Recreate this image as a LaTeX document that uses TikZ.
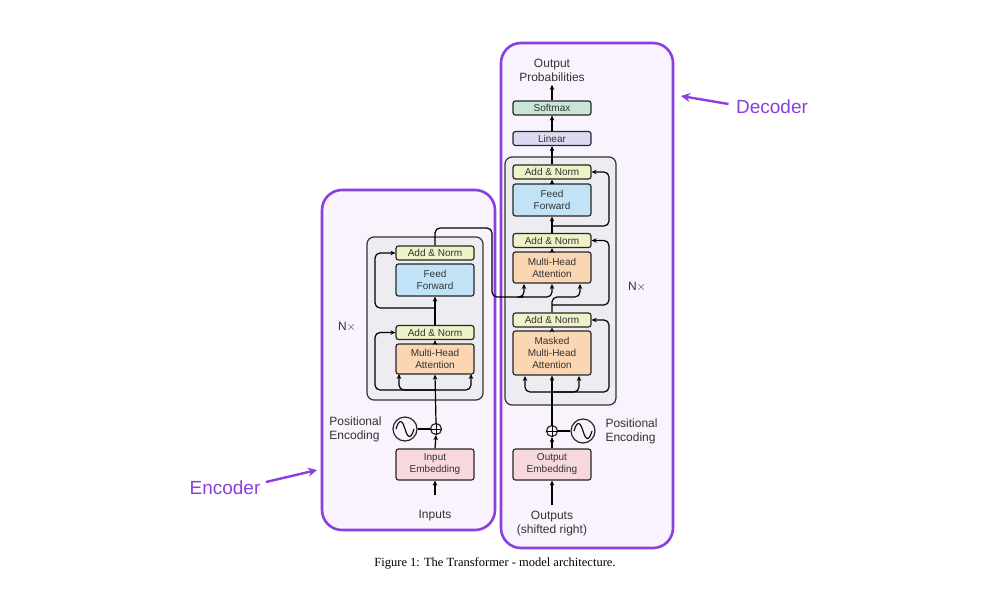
\documentclass[tikz,border=0pt]{standalone}
\usepackage{fontspec}
\setmainfont{Liberation Sans}
\newfontfamily\capfont{Liberation Serif}
\usetikzlibrary{arrows.meta}
\definecolor{purp}{HTML}{8A3FE0}
\definecolor{lav}{HTML}{F8F3FD}
\definecolor{blk}{HTML}{EDECF1}
\definecolor{addn}{HTML}{EFF1C6}
\definecolor{ffc}{HTML}{C2E3F7}
\definecolor{mha}{HTML}{FBD6B2}
\definecolor{emb}{HTML}{F7D8DD}
\definecolor{lin}{HTML}{DCDAF2}
\definecolor{smx}{HTML}{C8E6D3}
\definecolor{txt}{HTML}{333333}
\begin{document}
\begin{tikzpicture}[x=1pt,y=-1pt,
  big/.style={draw=purp,line width=2.6pt,fill=lav,rounded corners=20pt},
  blockbg/.style={draw=black!80,line width=1.2pt,fill=blk,rounded corners=7pt},
  box/.style={draw=black!85,line width=1.2pt,rounded corners=2.5pt,minimum width=78pt,inner sep=0pt,align=center,font=\fontsize{10}{12}\selectfont,text=txt},
  an/.style={box,fill=addn,minimum height=14pt},
  ln/.style={line width=1.2pt,rounded corners=5pt},
  ar/.style={ln,-{Stealth[length=5pt,width=4.5pt]}},
  lbl/.style={font=\fontsize{12}{14}\selectfont,text=txt,align=center},
  big/.append style={}]
\useasboundingbox (0,0) rectangle (992,600);
\fill[white] (0,0) rectangle (992,600);
% purple boxes
\draw[big] (322,190) rectangle (495,530);
\draw[big] (501,43) rectangle (673,548);
% gray blocks
\draw[blockbg] (367,237) rectangle (483,400);
\draw[blockbg] (505,157) rectangle (616,405);
% encoder nodes
\node[an] (ean2) at (435,253) {Add \& Norm};
\node[box,fill=ffc,minimum height=32pt] (eff) at (435,280) {Feed\\Forward};
\node[an] (ean1) at (435,332.5) {Add \& Norm};
\node[box,fill=mha,minimum height=30pt] (emha) at (435,359) {Multi-Head\\Attention};
\node[box,fill=emb,minimum height=31pt] (eemb) at (435,464.5) {Input\\Embedding};
\node[lbl] (ein) at (435,516) {Inputs};
\node[draw=black!85,line width=1.2pt,circle,minimum size=11pt,inner sep=0pt] (eplus) at (436,429) {};
\draw[line width=1pt] (eplus.north)--(eplus.south) (eplus.west)--(eplus.east);
\node[draw=black!85,line width=1.2pt,circle,minimum size=24pt,inner sep=0pt] (esin) at (405,429) {};
\draw[line width=1.1pt] (396,429) .. controls (399,419) and (402,419) .. (405,429) .. controls (408,439) and (411,439) .. (414,429);
\node[lbl,align=left,anchor=east] (epe) at (385,429) {Positional\\Encoding};
\node[lbl] (enx) at (347,327) {N$\times$};
% encoder connectors
\draw[ar] (ein.north) ++(0,-12) coordinate (ei0) -- (eemb.south);
\draw[ar] (eemb.north) -- (eplus.south);
\draw[ln] (esin.east) -- (eplus.west);
\draw[ar] (eplus.north) -- (emha.south);
\coordinate (ebr) at (435,390);
\draw[ar] (ebr) -| (399,374);
\draw[ar] (ebr) -| (471,374);
\draw[ar] (ebr) -- (375,390) |- (ean1.west);
\draw[ar] (emha.north) -- (ean1.south);
\draw[ar] (ean1.north) -- (eff.south);
\draw[ar] (435,308) -- (375,308) |- (ean2.west);
\draw[ln] (ean2.north) -- (435,228) -- (492,228) -- (492,297) -- (523,297);
% decoder nodes
\node[lbl] (dop) at (552,70) {Output\\Probabilities};
\node[box,fill=smx,minimum height=14pt] (dsm) at (552,108) {Softmax};
\node[box,fill=lin,minimum height=14pt] (dlin) at (552,138.5) {Linear};
\node[an] (dan3) at (552,172) {Add \& Norm};
\node[box,fill=ffc,minimum height=32pt] (dff) at (552,200) {Feed\\Forward};
\node[an] (dan2) at (552,240.5) {Add \& Norm};
\node[box,fill=mha,minimum height=31pt] (dmha) at (552,267.5) {Multi-Head\\Attention};
\node[an] (dan1) at (552,320) {Add \& Norm};
\node[box,fill=mha,minimum height=44pt] (dmm) at (552,353) {Masked\\Multi-Head\\Attention};
\node[box,fill=emb,minimum height=31pt] (demb) at (552,464.5) {Output\\Embedding};
\node[lbl] (dout) at (552,524) {Outputs\\(shifted right)};
\node[draw=black!85,line width=1.2pt,circle,minimum size=11pt,inner sep=0pt] (dplus) at (552,431) {};
\draw[line width=1pt] (dplus.north)--(dplus.south) (dplus.west)--(dplus.east);
\node[draw=black!85,line width=1.2pt,circle,minimum size=24pt,inner sep=0pt] (dsin) at (583,431) {};
\draw[line width=1.1pt] (574,431) .. controls (577,421) and (580,421) .. (583,431) .. controls (586,441) and (589,441) .. (592,431);
\node[lbl,align=left,anchor=west] (dpe) at (602,431) {Positional\\Encoding};
\node[lbl] (dnx) at (637,287) {N$\times$};
% decoder connectors
\draw[ar] (552,505) -- (demb.south);
\draw[ar] (demb.north) -- (dplus.south);
\draw[ln] (dsin.west) -- (dplus.east);
\draw[ar] (dplus.north) -- (dmm.south);
\coordinate (dbr) at (552,392);
\draw[ar] (dbr) -| (525,376);
\draw[ar] (dbr) -| (579,376);
\draw[ar] (dbr) -- (609,392) |- (dan1.east);
\draw[ar] (dmm.north) -- (dan1.south);
\draw[ar] (523,297) -| (524,284);
\draw[ar] (523,297) -| (552,284);
\draw[ar] (dan1.north) -- (552,297) -| (580,284);
\draw[ar] (552,305) -- (609,305) |- (dan2.east);
\draw[ar] (dmha.north) -- (dan2.south);
\draw[ar] (dan2.north) -- (dff.south);
\draw[ar] (552,226) -- (609,226) |- (dan3.east);
\draw[ar] (dff.north) -- (dan3.south);
\draw[ar] (dan3.north) -- (dlin.south);
\draw[ar] (dlin.north) -- (dsm.south);
\draw[ar] (dsm.north) -- (dop.south);
% labels
\node[font=\fontsize{19}{22}\selectfont,text=purp] (enc) at (225,488) {Encoder};
\node[font=\fontsize{19}{22}\selectfont,text=purp] (dec) at (772,107) {Decoder};
\draw[purp,line width=2.4pt,-{Stealth[length=9pt,width=9pt]}] (enc.east) ++(2,-6) coordinate (ea) -- (317,470);
\draw[purp,line width=2.4pt,-{Stealth[length=9pt,width=9pt]}] (dec.west) ++(-4,-3) coordinate (da) -- (681,96);
\node[font=\capfont\fontsize{12.5}{14}\selectfont] (cap) at (495,563) {Figure 1: The Transformer - model architecture.};
\end{tikzpicture}
\end{document}
